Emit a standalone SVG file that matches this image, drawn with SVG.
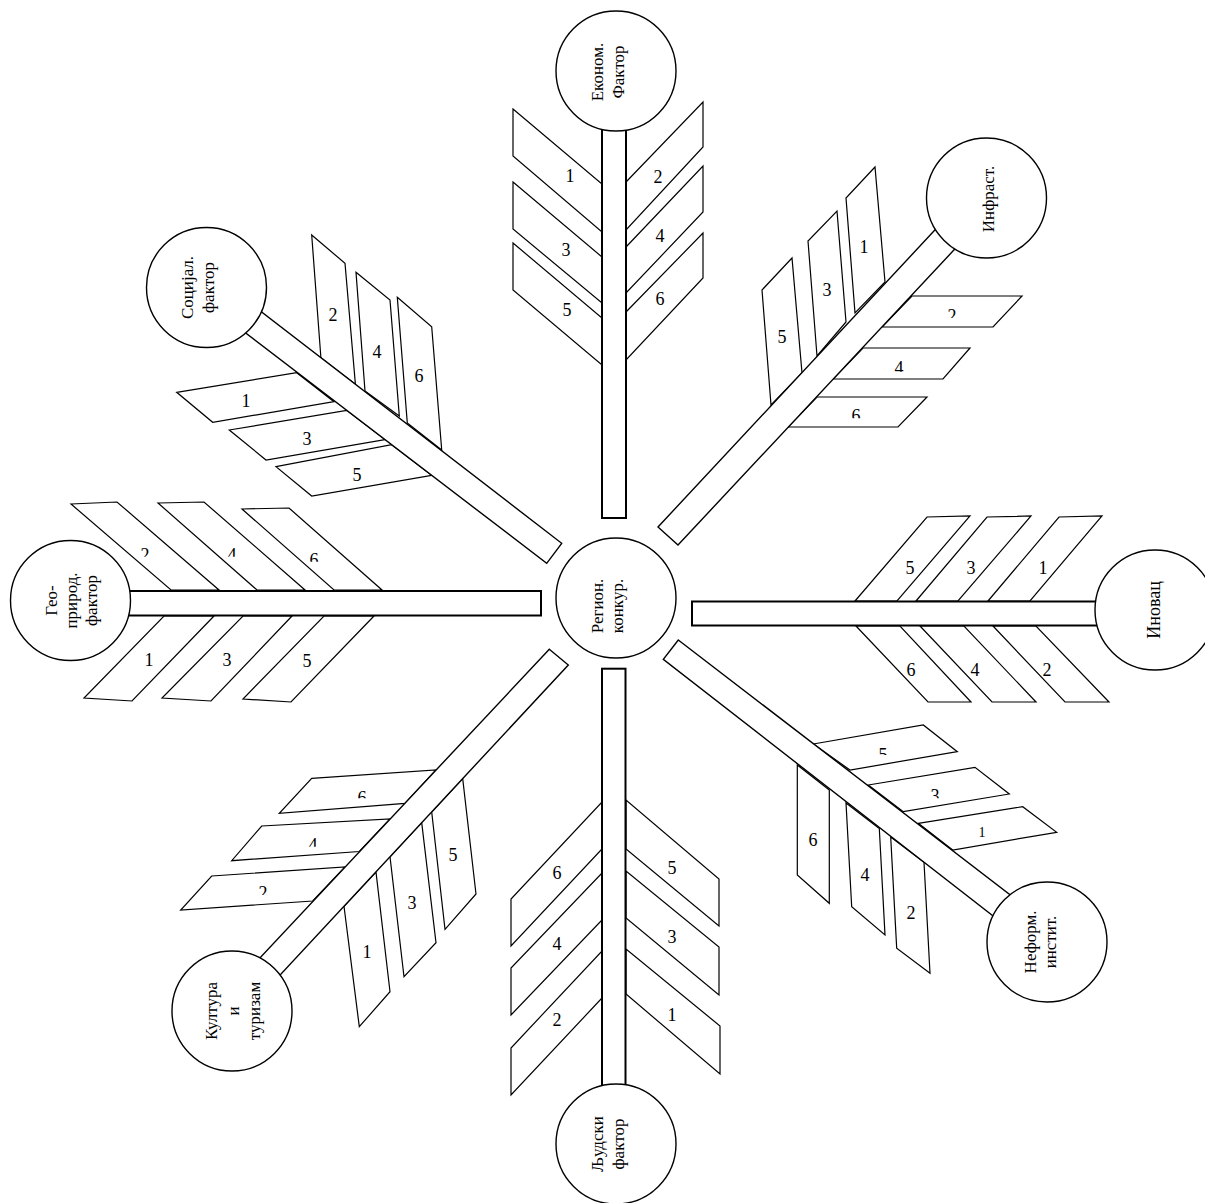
<svg xmlns="http://www.w3.org/2000/svg" width="1205" height="1203" viewBox="0 0 1205 1203">
<defs>
<style>
.br{fill:#fff;stroke:#000;stroke-width:1.2}
.sp{fill:#fff;stroke:#000;stroke-width:2}
.sd{fill:#fff;stroke:#000;stroke-width:1.4}
.nd{fill:#fff;stroke:#000;stroke-width:1.4}
.n{font-family:"Liberation Serif","Times New Roman",serif;font-size:18px;fill:#000;text-anchor:middle}
.t{font-family:"Liberation Serif","Times New Roman",serif;font-size:17px;fill:#000;text-anchor:middle}
</style>
<clipPath id="cI2"><rect x="932" y="300" width="40" height="18"/></clipPath>
<clipPath id="cI4"><rect x="879" y="350" width="40" height="21.7"/></clipPath>
<clipPath id="cI6"><rect x="836" y="400" width="40" height="18.3"/></clipPath>
<clipPath id="cG2"><rect x="125" y="538" width="40" height="18.7"/></clipPath>
<clipPath id="cG4"><rect x="212" y="538" width="40" height="18.7"/></clipPath>
<clipPath id="cG6"><rect x="294" y="543" width="40" height="18.7"/></clipPath>
<clipPath id="cK6"><rect x="342" y="781" width="40" height="17.3"/></clipPath>
<clipPath id="cK4"><rect x="293" y="828" width="40" height="18.7"/></clipPath>
<clipPath id="cK2"><rect x="243" y="876" width="40" height="19"/></clipPath>
<clipPath id="cN5"><rect x="863" y="738" width="40" height="17"/></clipPath>
<clipPath id="cN3"><rect x="915" y="779" width="40" height="19.3"/></clipPath>
</defs>
<rect width="1205" height="1203" fill="#fff"/>

<g id="branches">
  <g id="br-ekonom">
    <polygon class="br" points="513,109 602,184 602,232 513,156"/>
    <polygon class="br" points="513,182 602,257 602,303 513,229"/>
    <polygon class="br" points="513,243 602,318 602,365 513,290"/>
    <polygon class="br" points="626,182 703,102 703,147 626,230"/>
    <polygon class="br" points="626,247 703,166 703,212 626,293"/>
    <polygon class="br" points="626,312 703,233 703,278 626,360"/>
    <text class="n" x="570" y="182">1</text>
    <text class="n" x="566" y="256">3</text>
    <text class="n" x="567" y="316">5</text>
    <text class="n" x="658" y="183">2</text>
    <text class="n" x="660" y="242">4</text>
    <text class="n" x="660" y="305">6</text>
  </g>
  <g id="br-infrast">
    <polygon class="br" points="855,313 846,198 875,167 885,282"/>
    <polygon class="br" points="817,356 808,241 837,211 846,322"/>
    <polygon class="br" points="771,405 762,290 792,258 802,373"/>
    <polygon class="br" points="912,296 1022,296 993,327 882,327"/>
    <polygon class="br" points="863,348 970,348 943,379 833,379"/>
    <polygon class="br" points="817,397 927,397 898,427 788,427"/>
    <text class="n" x="864" y="253">1</text>
    <text class="n" x="827" y="296">3</text>
    <text class="n" x="782" y="343">5</text>
    <text class="n" x="952" y="322" clip-path="url(#cI2)">2</text>
    <text class="n" x="899" y="374" clip-path="url(#cI4)">4</text>
    <text class="n" x="856" y="422" clip-path="url(#cI6)">6</text>
  </g>
  <g id="br-inovac">
    <polygon class="br" points="855,601 927,517 970,516 897,601"/>
    <polygon class="br" points="916,601 987,517 1031,516 958,601"/>
    <polygon class="br" points="988,601 1059,517 1102,516 1030,601"/>
    <polygon class="br" points="856,626 928,702 971,702 900,626"/>
    <polygon class="br" points="920,626 992,702 1036,702 964,626"/>
    <polygon class="br" points="993,626 1065,702 1109,702 1036,626"/>
    <text class="n" x="910" y="574">5</text>
    <text class="n" x="971" y="574">3</text>
    <text class="n" x="1043" y="574">1</text>
    <text class="n" x="911" y="676">6</text>
    <text class="n" x="975" y="676">4</text>
    <text class="n" x="1047" y="676">2</text>
  </g>
  <g id="br-neform">
    <polygon class="br" points="813.3,744 923.3,725 957.3,751.7 850,770"/>
    <polygon class="br" points="868.3,785 975,767.3 1009.3,794 903.3,811.7"/>
    <polygon class="br" points="918.3,823.3 1022.7,806.7 1056.7,832.3 952.7,850"/>
    <polygon class="br" points="797.3,765 829.3,790 829.3,903.3 797.3,875"/>
    <polygon class="br" points="846,803 879.3,828.5 885,935 851.7,906.7"/>
    <polygon class="br" points="890.7,837 924,862.3 930,973.3 896.7,948.3"/>
    <text class="n" x="883" y="760.5" clip-path="url(#cN5)">5</text>
    <text class="n" x="935" y="801.5" clip-path="url(#cN3)">3</text>
    <text class="n" x="982" y="837" style="font-size:14px">1</text>
    <text class="n" x="813" y="846">6</text>
    <text class="n" x="865" y="881">4</text>
    <text class="n" x="911" y="919">2</text>
  </g>
  <g id="br-ljudski">
    <polygon class="br" points="602,802 602,849 511,946 511,899"/>
    <polygon class="br" points="602,873 602,920 511,1015 511,968"/>
    <polygon class="br" points="602,951 602,998 511,1095 511,1048"/>
    <polygon class="br" points="626,800 626,849 719,926 719,879"/>
    <polygon class="br" points="626,871 626,918 719,995 719,947"/>
    <polygon class="br" points="626,949 626,994 720,1074 720,1026"/>
    <text class="n" x="557" y="879">6</text>
    <text class="n" x="557" y="950">4</text>
    <text class="n" x="557" y="1026">2</text>
    <text class="n" x="672" y="874">5</text>
    <text class="n" x="672" y="943">3</text>
    <text class="n" x="672" y="1021">1</text>
  </g>
  <g id="br-kultura">
    <polygon class="br" points="311.7,778.3 436,770 405,803.3 279.3,813.3"/>
    <polygon class="br" points="261.7,826 390,819 359.3,851.5 231.7,860.7"/>
    <polygon class="br" points="211.7,876 345,867 312.7,901 180.7,910"/>
    <polygon class="br" points="344,906.3 376,872.1 390,991.7 359.3,1026.7"/>
    <polygon class="br" points="390,856.8 421.7,822.7 436,942.7 404,976.7"/>
    <polygon class="br" points="431.7,812 462.7,778.6 476,894 445,929.3"/>
    <text class="n" x="362" y="804" clip-path="url(#cK6)">6</text>
    <text class="n" x="313" y="850.5" clip-path="url(#cK4)">4</text>
    <text class="n" x="263" y="899" clip-path="url(#cK2)">2</text>
    <text class="n" x="367" y="958">1</text>
    <text class="n" x="412" y="909">3</text>
    <text class="n" x="453" y="861">5</text>
  </g>
  <g id="br-geo">
    <polygon class="br" points="71,504 117,502 219,590 171,590"/>
    <polygon class="br" points="158,503 204,502 305,590 257,590"/>
    <polygon class="br" points="242,509 289,508 382,590 334,590"/>
    <polygon class="br" points="164,616 214,616 132,701 84,698"/>
    <polygon class="br" points="243,616 292,616 211,701 162,698"/>
    <polygon class="br" points="324,616 374,616 291,702 243,699"/>
    <text class="n" x="145" y="560.5" clip-path="url(#cG2)">2</text>
    <text class="n" x="232" y="560.5" clip-path="url(#cG4)">4</text>
    <text class="n" x="314" y="565.5" clip-path="url(#cG6)">6</text>
    <text class="n" x="149" y="666">1</text>
    <text class="n" x="227" y="666">3</text>
    <text class="n" x="307" y="667">5</text>
  </g>
  <g id="br-socijal">
    <polygon class="br" points="311.7,235 345,263.3 355.4,384.3 320.9,357.7"/>
    <polygon class="br" points="356,272.3 390,300 399.3,416 365,391"/>
    <polygon class="br" points="397.3,297.3 431.7,326.7 441.7,450 407.3,423"/>
    <polygon class="br" points="176.7,392.3 296.7,372.7 334,401.7 212.7,422.3"/>
    <polygon class="br" points="229.3,430 346.7,410.3 385,439.6 266,460"/>
    <polygon class="br" points="276,466.7 391.7,444.7 431.7,475.3 311.7,496"/>
    <text class="n" x="333" y="321">2</text>
    <text class="n" x="377" y="358">4</text>
    <text class="n" x="419" y="382">6</text>
    <text class="n" x="246" y="406.5">1</text>
    <text class="n" x="307" y="445">3</text>
    <text class="n" x="357" y="481">5</text>
  </g>
</g>

<g id="connectors">
  <rect class="sp" x="602" y="100" width="24" height="418"/>
  <rect class="sp" x="602" y="668.7" width="23.5" height="440"/>
  <rect class="sp" x="100" y="591" width="441" height="24.5"/>
  <rect class="sp" x="692" y="601.5" width="430" height="24"/>
  <polygon class="sd" points="658,527 950,213.8 970,232.8 678,545"/>
  <polygon class="sd" points="230,287.6 561.7,543.3 546.7,563.3 215,309.5"/>
  <polygon class="sd" points="678.3,640 1030,910 1015,933.1 663.3,659.3"/>
  <polygon class="sd" points="549.3,649.3 568.3,665 262,994.5 245,973.8"/>
</g>

<g id="node-region">
  <circle class="nd" cx="616" cy="598" r="60"/>
  <text class="t" transform="translate(616,598) rotate(-90)"><tspan x="-8" y="-13">Регион.</tspan><tspan x="-8" y="7">конкур.</tspan></text>
</g>
<g id="node-ekonom">
  <circle class="nd" cx="616" cy="71" r="60"/>
  <text class="t" transform="translate(616,71) rotate(-90)"><tspan x="-1" y="-13">Економ.</tspan><tspan x="-1" y="8">Фактор</tspan></text>
</g>
<g id="node-infrast">
  <circle class="nd" cx="986.5" cy="198" r="60"/>
  <text class="t" transform="translate(986.5,198) rotate(-90)"><tspan x="-1" y="7.5">Инфраст.</tspan></text>
</g>
<g id="node-inovac">
  <circle class="nd" cx="1155" cy="610" r="60"/>
  <text class="t" transform="translate(1155,610) rotate(-90)" style="font-size:18px"><tspan x="0" y="5">Иновац</tspan></text>
</g>
<g id="node-neform">
  <circle class="nd" cx="1047" cy="942" r="60"/>
  <text class="t" transform="translate(1047,942) rotate(-90)"><tspan x="0" y="-11">Неформ.</tspan><tspan x="0" y="9">инстит.</tspan></text>
</g>
<g id="node-ljudski">
  <circle class="nd" cx="616" cy="1144" r="60"/>
  <text class="t" transform="translate(616,1144) rotate(-90)"><tspan x="0" y="-13">Људски</tspan><tspan x="0" y="8">фактор</tspan></text>
</g>
<g id="node-kultura">
  <circle class="nd" cx="232" cy="1011" r="60"/>
  <text class="t" transform="translate(232,1011) rotate(-90)"><tspan x="0" y="-15">Култура</tspan><tspan x="0" y="7">и</tspan><tspan x="0" y="28">туризам</tspan></text>
</g>
<g id="node-geo">
  <circle class="nd" cx="70.5" cy="600.5" r="60"/>
  <text class="t" transform="translate(70.5,600.5) rotate(-90)"><tspan x="0" y="-13.5">Гео-</tspan><tspan x="0" y="6.5">природ.</tspan><tspan x="0" y="26.5">фактор</tspan></text>
</g>
<g id="node-socijal">
  <circle class="nd" cx="206.5" cy="287.5" r="60"/>
  <text class="t" transform="translate(206.5,287.5) rotate(-90)"><tspan x="0" y="-13.5">Социјал.</tspan><tspan x="0" y="7.5">фактор</tspan></text>
</g>
</svg>
